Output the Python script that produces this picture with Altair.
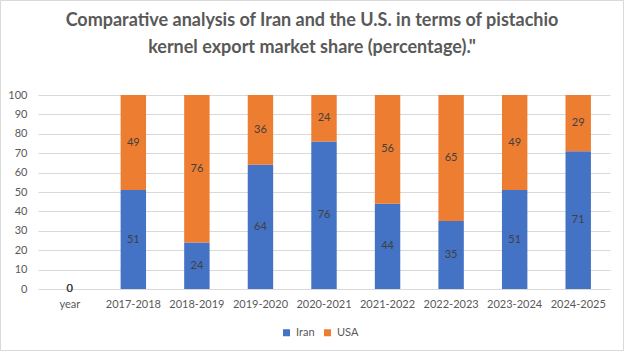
import altair as alt
import pandas as pd

categories = ["year", "2017-2018", "2018-2019", "2019-2020", "2020-2021",
              "2021-2022", "2022-2023", "2023-2024", "2024-2025"]
iran = [0, 51, 24, 64, 76, 44, 35, 51, 71]
usa = [0, 49, 76, 36, 24, 56, 65, 49, 29]
series = ["Iran", "USA"]
colors = ["#4472C4", "#ED7D31"]
y_ticks = [0, 10, 20, 30, 40, 50, 60, 70, 80, 90, 100]
title_lines = ["Comparative analysis of Iran and  the U.S. in terms of pistachio",
               "kernel export market share (percentage).\""]

rows = []
for c, a, b in zip(categories, iran, usa):
    rows.append({"cat": c, "series": "Iran", "ord": 0, "value": a})
    rows.append({"cat": c, "series": "USA", "ord": 1, "value": b})
df = pd.DataFrame(rows)

FONT = "Lato"
GRAY = "#595959"

base = alt.Chart(df)

x_axis = alt.Axis(labelAngle=0, ticks=False, domain=False, labelPadding=9,
                  labelFont=FONT, labelFontSize=11, labelColor=GRAY)
y_axis = alt.Axis(values=y_ticks, ticks=False, domain=False, labelPadding=11,
                  gridColor="#D9D9D9", labelFont=FONT, labelFontSize=11,
                  labelColor=GRAY, labelOverlap=False)
x_scale = alt.Scale(paddingInner=0.6, paddingOuter=0.3)
y_scale = alt.Scale(domain=[0, 100], nice=False)

bars = base.mark_bar().encode(
    x=alt.X("cat:N", sort=categories, title=None, scale=x_scale, axis=x_axis),
    y=alt.Y("value:Q", stack="zero", title=None, scale=y_scale, axis=y_axis),
    color=alt.Color("series:N", scale=alt.Scale(domain=series, range=colors),
                    legend=alt.Legend(title=None, orient="none", direction="horizontal",
                                      legendX=243, legendY=232, symbolType="square",
                                      symbolSize=49, labelFont=FONT, labelFontSize=11,
                                      labelColor=GRAY, columnPadding=7, labelOffset=4,
                                      symbolStrokeWidth=0)),
    order=alt.Order("ord:Q", sort="ascending"),
)

labels = base.transform_stack(
    stack="value", groupby=["cat"], as_=["y0", "y1"],
    sort=[alt.SortField("ord", order="ascending")]
).transform_calculate(
    mid="(datum.y0 + datum.y1) / 2"
).mark_text(font=FONT, fontSize=11, color="#404040", baseline="middle").encode(
    x=alt.X("cat:N", sort=categories, title=None, scale=x_scale, axis=x_axis),
    y=alt.Y("mid:Q", title=None, scale=y_scale, axis=y_axis),
    text=alt.Text("value:Q"),
)

one = pd.DataFrame({"a": [0]})

border = alt.Chart(one).mark_rect(
    fill=None, stroke="#D9D9D9", strokeWidth=1, clip=False
).encode(x=alt.value(-37.5), x2=alt.value(585.5), y=alt.value(-94.5), y2=alt.value(255.5))

title = alt.Chart(one).mark_text(
    text=title_lines, font=FONT, fontSize=18, fontWeight="bold", color=GRAY,
    align="center", baseline="middle", lineHeight=27, clip=False
).encode(x=alt.value(274), y=alt.value(-74))

chart = alt.layer(bars, labels, border, title).properties(
    width=572, height=194,
    padding={"left": 38, "top": 95, "right": 14, "bottom": 62},
    autosize=alt.AutoSizeParams(type="none"),
).configure(background="white").configure_view(stroke=None)

chart.save("out.html", embed_options={"renderer": "svg", "actions": False})
